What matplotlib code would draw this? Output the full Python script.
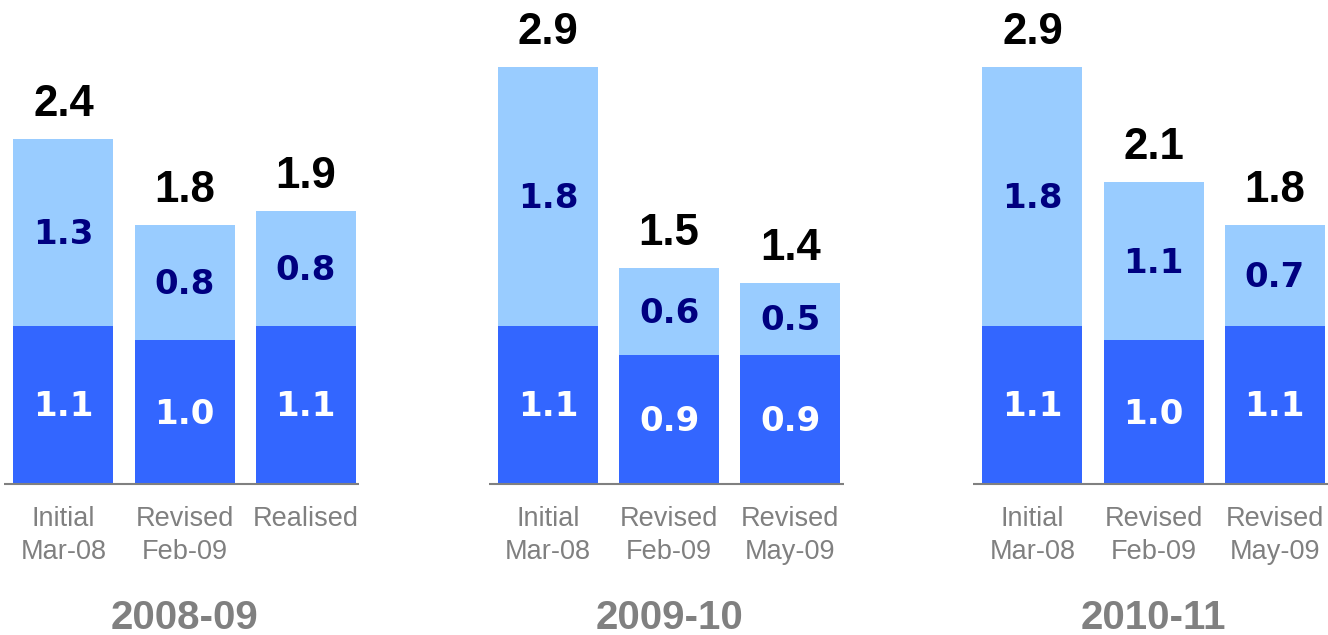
# Stacked bar comparison of initial vs revised estimates, three fiscal years
import numpy as np
import matplotlib.pyplot as plt

# Data
years = ['2008-09', '2009-10', '2010-11']
bar_labels = [
    ['Initial\nMar-08', 'Revised\nFeb-09', 'Realised'],
    ['Initial\nMar-08', 'Revised\nFeb-09', 'Revised\nMay-09'],
    ['Initial\nMar-08', 'Revised\nFeb-09', 'Revised\nMay-09'],
]
lower = [
    [1.1, 1.0, 1.1],
    [1.1, 0.9, 0.9],
    [1.1, 1.0, 1.1],
]
upper = [
    [1.3, 0.8, 0.8],
    [1.8, 0.6, 0.5],
    [1.8, 1.1, 0.7],
]

dark_blue = '#3366FF'
light_blue = '#99CCFF'
navy = '#000080'
grey = '#808080'

fig = plt.figure(figsize=(13.28, 6.35), dpi=100)
ax = fig.add_axes([0, 0, 1, 1])
ax.set_xlim(-0.524, 10.44)
ax.set_ylim(-1.051, 3.368)
ax.axis('off')

width = 0.826
for g, year in enumerate(years):
    x = 4 * g + np.arange(3)
    lo = np.array(lower[g])
    hi = np.array(upper[g])
    tot = lo + hi

    ax.bar(x, lo, width=width, color=dark_blue, zorder=2)
    ax.bar(x, hi, width=width, bottom=lo, color=light_blue, zorder=2)
    ax.hlines(0, 4 * g - 0.49, 4 * g + 2.44, color=grey, lw=1.5, zorder=3)

    for xi, l, h, t, lab in zip(x, lo, hi, tot, bar_labels[g]):
        ax.text(xi, l / 2 - 0.08, f'{l:.1f}', ha='center', va='baseline',
                color='white', fontsize=24.5, fontweight='bold',
                family='DejaVu Sans')
        ax.text(xi, l + h / 2 - 0.08, f'{h:.1f}', ha='center', va='baseline',
                color=navy, fontsize=24.5, fontweight='bold',
                family='DejaVu Sans')
        ax.text(xi, t + 0.16, f'{t:.1f}', ha='center', va='baseline',
                color='black', fontsize=31.5, fontweight='bold',
                family='Liberation Sans')
        # category label, one text per line so the first baseline stays fixed
        for k, line in enumerate(lab.split('\n')):
            ax.text(xi, -0.29 - 0.23 * k, line, ha='center', va='baseline',
                    color=grey, fontsize=19.5, family='Liberation Sans')

    ax.text(4 * g + 1, -1.009, year, ha='center', va='baseline', color=grey,
            fontsize=29, fontweight='bold', family='Liberation Sans')

fig.savefig('out.png', dpi=100)
